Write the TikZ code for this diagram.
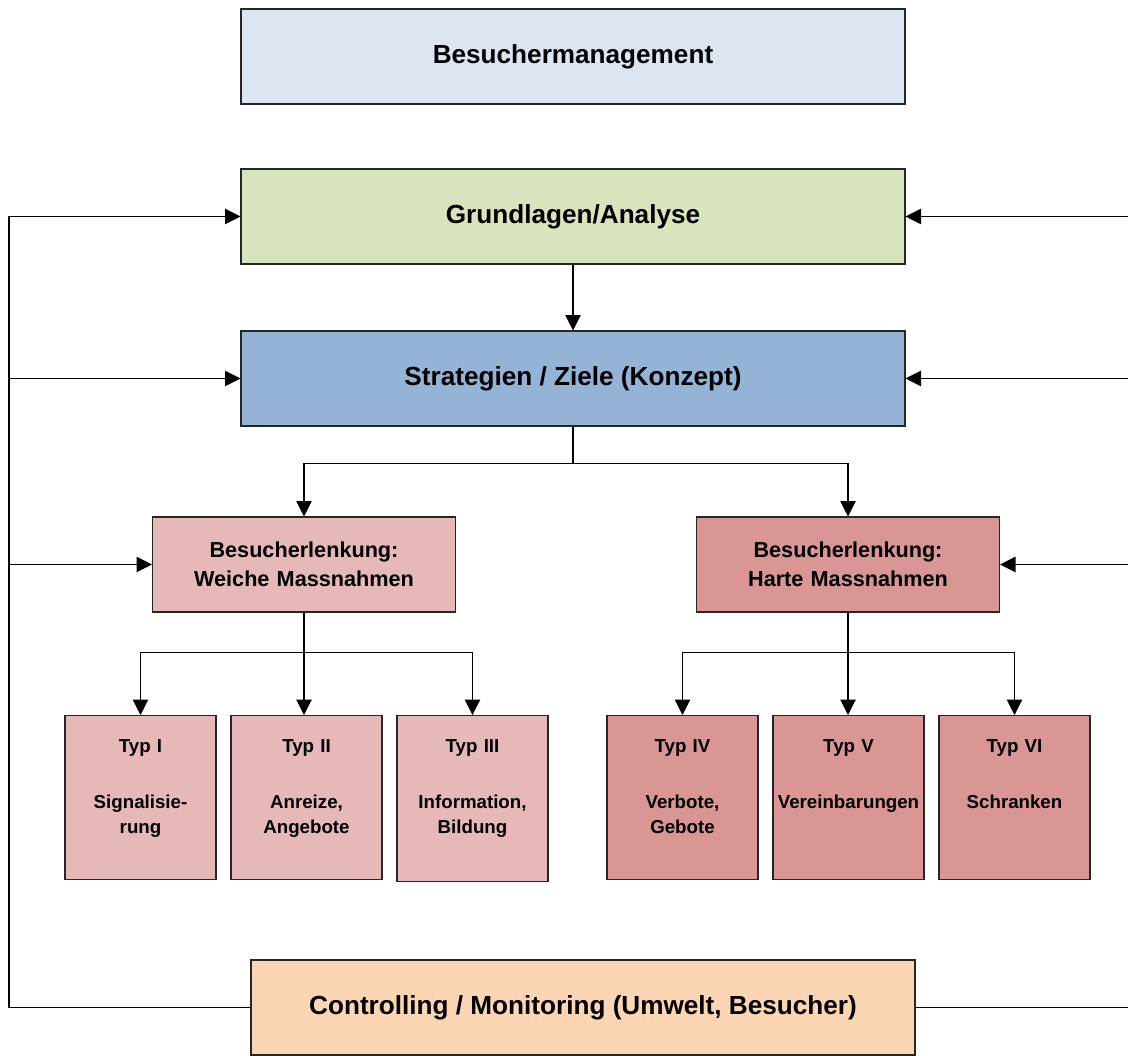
\documentclass[tikz,border=0pt]{standalone}
\usepackage{fontspec}
\setmainfont{Liberation Sans}
\usepackage{tikz}
\usetikzlibrary{arrows.meta, positioning, calc}
\definecolor{mgmtblue}{HTML}{DCE6F2}
\definecolor{grundgreen}{HTML}{D7E4BD}
\definecolor{stratblue}{HTML}{95B3D7}
\definecolor{weichrose}{HTML}{E6B9B8}
\definecolor{hartrose}{HTML}{D99694}
\definecolor{ctrlorange}{HTML}{FCD5B5}

\begin{document}
\begin{tikzpicture}[
  every node/.style={font=\bfseries},
  stage/.style={
    draw=black!85, line width=0.75pt, inner sep=0pt,
    minimum width=16.6cm, minimum height=2.375cm,
    font=\bfseries\fontsize{18.6}{22}\selectfont
  },
  lenk/.style={
    draw=black!85, line width=0.75pt, inner sep=0pt,
    text width=7.2cm, align=center,
    minimum width=7.575cm, minimum height=2.375cm,
    font=\bfseries\fontsize{15.4}{20.6}\selectfont
  },
  typ/.style={
    draw=black!85, line width=0.75pt, inner sep=0pt, anchor=north,
    text width=3.6cm, align=center, minimum width=3.775cm,
    text height=0.925cm, text depth=3.175cm,
    font=\bfseries\fontsize{13.3}{17.8}\selectfont
  },
  arrow/.style={-{Triangle[length=11pt, width=11pt]}, line width=0.75pt},
  link/.style={line width=0.75pt}
]
\useasboundingbox (0,0) rectangle (28.2,26.375);

  % Ebenen
\node[stage, fill=mgmtblue] (mgmt) at (14.325, 24.9625) {Besuchermanagement};
\node[stage, fill=grundgreen] (grund) at (14.325, 20.9625) {Grundlagen/Analyse};
\node[stage, fill=stratblue] (strat) at (14.325, 16.9125) {Strategien / Ziele (Konzept)};

  % Besucherlenkung
\node[lenk, fill=weichrose] (weich) at (7.6, 12.2625) {Besucherlenkung:\\Weiche Massnahmen};
\node[lenk, fill=hartrose] (hart) at (21.2, 12.2625) {Besucherlenkung:\\Harte Massnahmen};

  % Typen
\node[typ, fill=weichrose] (typ1) at (3.5125, 8.5) {Typ I\\[22pt]Signalisie-\\rung};
\node[typ, fill=weichrose] (typ2) at (7.6625, 8.5) {Typ II\\[22pt]Anreize,\\Angebote};
\node[typ, fill=weichrose, text depth=3.225cm] (typ3) at (11.8125, 8.5) {Typ III\\[22pt]Information,\\Bildung};
\node[typ, fill=hartrose] (typ4) at (17.0625, 8.5) {Typ IV\\[22pt]Verbote,\\Gebote};
\node[typ, fill=hartrose] (typ5) at (21.2125, 8.5) {Typ V\\[22pt]Vereinbarungen};
\node[typ, fill=hartrose] (typ6) at (25.3625, 8.5) {Typ VI\\[22pt]Schranken};

  % Controlling
\node[stage, fill=ctrlorange] (ctrl) at (14.575, 1.1875) {Controlling / Monitoring (Umwelt, Besucher)};

\coordinate (lrail) at (0.225, 0);
\coordinate (rrail) at (28.2, 0);

  % Baum
  \draw[arrow] (grund.south) -- (strat.north);
  \draw[arrow] (strat.south) -- ++(0,-0.925) -| (weich.north);
  \draw[arrow] (strat.south) -- ++(0,-0.925) -| (hart.north);
  \draw[arrow] (weich.south) -- ++(0,-1) -| (typ1.north);
  \draw[arrow] (weich.south) -- (weich.south |- typ2.north);
  \draw[arrow] (weich.south) -- ++(0,-1) -| (typ3.north);
  \draw[arrow] (hart.south) -- ++(0,-1) -| (typ4.north);
  \draw[arrow] (hart.south) -- (hart.south |- typ5.north);
  \draw[arrow] (hart.south) -- ++(0,-1) -| (typ6.north);

  % Rueckkopplung links
  \draw[arrow] (ctrl.west) -| (lrail |- grund.west) -- (grund.west);
  \draw[arrow] (lrail |- strat.west) -- (strat.west);
  \draw[arrow] (lrail |- weich.west) -- (weich.west);

  % Rueckkopplung rechts
  \draw[link] (ctrl.east) -- (ctrl.east -| rrail);
  \draw[arrow] (rrail |- grund.east) -- (grund.east);
  \draw[arrow] (rrail |- strat.east) -- (strat.east);
  \draw[arrow] (rrail |- hart.east) -- (hart.east);

\end{tikzpicture}
\end{document}
